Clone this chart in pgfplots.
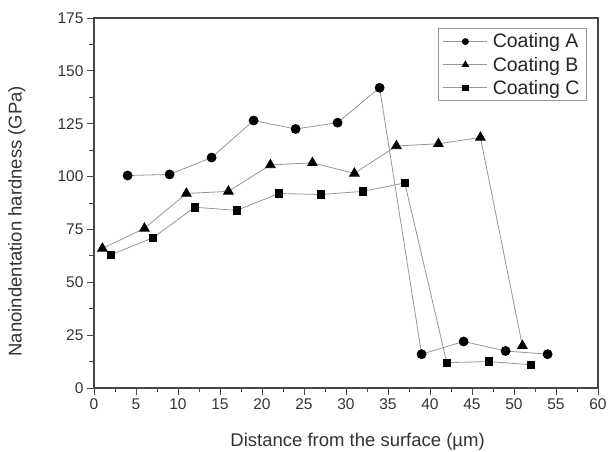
\documentclass[border=0pt]{standalone}
\usepackage{pgfplots}
\pgfplotsset{compat=1.18}
\usepackage{fontspec}
\setmainfont{Liberation Sans}
\definecolor{linegray}{RGB}{150,150,150}
\definecolor{axisgray}{RGB}{70,70,70}

\begin{document}
\begin{tikzpicture}[font=\fontsize{15.5}{17}\selectfont]
\begin{axis}[
  scale only axis,
  width=504pt, height=370pt,
  xmin=0, xmax=60, ymin=0, ymax=175,
  xtick={0,5,...,60}, ytick={0,25,...,175},
  minor x tick num=1, minor y tick num=1,
  tick align=outside,
  xtick pos=bottom, ytick pos=left,
  major tick length=7pt, minor tick length=4.5pt,
  axis line style={axisgray, line width=1.2pt},
  every tick/.style={axisgray, line width=0.9pt},
  /pgf/number format/assume math mode=true,
  tick label style={text=black!80},
  xlabel={Distance from the surface (\textmu m)},
  ylabel={Nanoindentation hardness (GPa)},
  label style={font=\fontsize{18.5}{21}\selectfont, text=black!80},
  xlabel style={at={(axis description cs:0.523,-0.146)}, anchor=center},
  ylabel style={at={(axis description cs:-0.153,0.451)}, anchor=center},
  legend style={at={(0.978,0.972)}, anchor=north east, draw=linegray,
    line width=0.8pt, font=\fontsize{19.5}{22}\selectfont, text=black!85,
    row sep=3.5pt, inner xsep=5pt, inner ysep=3pt,
    /tikz/every odd column/.append style={column sep=3pt}},
  legend cell align=left,
  legend image code/.code={
    \draw[mark repeat=2, mark phase=2, #1]
      plot coordinates {(0pt,0pt) (22pt,0pt) (44pt,0pt)};},
]
\addplot[linegray, line width=0.8pt, mark=*, mark size=4.5pt,
  mark options={fill=black, draw=black},
  legend image post style={mark size=3pt}] coordinates {
(4,100.5) (9,101) (14,109) (19,126.5) (24,122.5) (29,125.5) (34,142)
(39,16) (44,22) (49,17.5) (54,16)};
\addlegendentry{Coating A}
\addplot[linegray, line width=0.8pt, mark=triangle*, mark size=5.5pt,
  mark options={fill=black, draw=black},
  legend image post style={mark size=3.6pt}] coordinates {
(1,66) (6,75.5) (11,92) (16,93) (21,105.5) (26,106.5) (31,101.5)
(36,114.5) (41,115.5) (46,118.5) (51,20)};
\addlegendentry{Coating B}
\addplot[linegray, line width=0.8pt, mark=square*, mark size=3.7pt,
  mark options={fill=black, draw=black},
  legend image post style={mark size=2.7pt}] coordinates {
(2,63) (7,71) (12,85.5) (17,84) (22,92) (27,91.5) (32,93) (37,97)
(42,12) (47,12.5) (52,11)};
\addlegendentry{Coating C}
\end{axis}
\pgfresetboundingbox
\path (-94pt,-64pt) rectangle (514pt,388pt);
\end{tikzpicture}
\end{document}
